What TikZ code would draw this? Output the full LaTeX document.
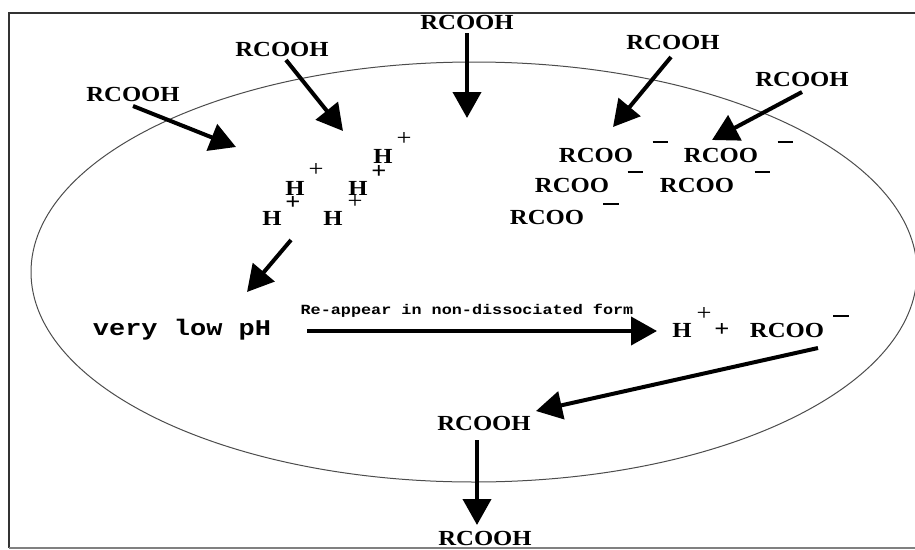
\documentclass[tikz,border=0pt]{standalone}
\usepackage{fontspec}
\usetikzlibrary{arrows.meta}
\newfontfamily\monob{Liberation Mono}[FakeStretch=1.2]
\newfontfamily\chemf{Liberation Serif}[FakeStretch=1.15]
\begin{document}
\begin{tikzpicture}[x=1pt,y=-1pt,
  chem/.style={font=\chemf\bfseries\fontsize{21.5}{21.5}\selectfont, inner sep=0pt},
  chg/.style={font=\chemf\fontsize{23}{23}\selectfont, inner sep=0pt},
  chgb/.style={font=\chemf\bfseries\fontsize{23}{23}\selectfont, inner sep=0pt},
  mns/.style={inner sep=0pt},
  bigarrow/.style={line width=4pt, -{Triangle[length=26pt,width=28pt]}},
]
\useasboundingbox (0,0) rectangle (915,549);
\clip (0,0) rectangle (915,549);
% frame
\draw[line width=2pt, black!80] (915,13) -- (9,13) -- (9,548);
\draw[line width=1.5pt, gray] (9,548) -- (915,548);
% cell
\draw[line width=1pt, black!70] (474,272) ellipse [x radius=443pt, y radius=210pt];

% incoming acids
\node[chem] (r1) at (133,94) {RCOOH};
\node[chem] (r2) at (282,49) {RCOOH};
\node[chem] (r3) at (467,22) {RCOOH};
\node[chem] (r4) at (673,42) {RCOOH};
\node[chem] (r5) at (802,79) {RCOOH};

% protons
\node[chem] (h1) at (383,156) {H}; \node[chg]  (p1) at (404,139) {+};
\node[chem] (h2) at (295,188) {H}; \node[chg]  (p2) at (316,170) {+};
\node[chem] (h3) at (358,188) {H}; \node[chgb] (p3) at (379,172) {+};
\node[chem] (h4) at (272,218) {H}; \node[chgb] (p4) at (293,203) {+};
\node[chem] (h5) at (333,218) {H}; \node[chg]  (p5) at (355,202) {+};

% anions
\node[chem] (c1) at (596,155) {RCOO}; \node[mns] (m1) at (660,142) {\rule{15pt}{1.4pt}};
\node[chem] (c2) at (721,155) {RCOO}; \node[mns] (m2) at (785,142) {\rule{15pt}{1.4pt}};
\node[chem] (c3) at (572,185) {RCOO}; \node[mns] (m3) at (635,172) {\rule{15pt}{1.4pt}};
\node[chem] (c4) at (697,185) {RCOO}; \node[mns] (m4) at (762,172) {\rule{15pt}{1.4pt}};
\node[chem] (c5) at (547,217) {RCOO}; \node[mns] (m5) at (611,204) {\rule{16pt}{2.8pt}};

% low pH
\node[inner sep=0pt, font=\monob\bfseries\fontsize{22.5}{22.5}\selectfont] (vlp) at (182,330) {very low pH};
\node[inner sep=0pt, font=\monob\bfseries\fontsize{14}{14}\selectfont] (lbl) at (467,311) {Re-appear in non-dissociated form};

% right products
\node[chem] (hh) at (682,330) {H}; \node[chg] (hp) at (704,314) {+};
\node[chgb] (pl) at (722,330) {+};
\node[chem] (rc) at (787,330) {RCOO}; \node[mns] (rm) at (841,316) {\rule{16pt}{2.2pt}};

% out
\node[chem] (ra) at (484,423) {RCOOH};
\node[chem] (rb) at (485,538) {RCOOH};

% arrow endpoints
\coordinate (a1s) at (133,106); \coordinate (a1e) at (236,147);
\coordinate (a2s) at (286,60);  \coordinate (a2e) at (343,131);
\coordinate (a3s) at (467,33);  \coordinate (a3e) at (467,118);
\coordinate (a4s) at (671,57);  \coordinate (a4e) at (613,127);
\coordinate (a5s) at (802,92);  \coordinate (a5e) at (712,140);
\coordinate (a6s) at (291,240); \coordinate (a6e) at (247,292);
\coordinate (a7s) at (307,331); \coordinate (a7e) at (657,331);
\coordinate (a8s) at (818,348); \coordinate (a8e) at (536,411);
\coordinate (a9s) at (477,440); \coordinate (a9e) at (477,525);

\foreach \i in {1,...,9} \draw[bigarrow] (a\i s) -- (a\i e);
\end{tikzpicture}
\end{document}
